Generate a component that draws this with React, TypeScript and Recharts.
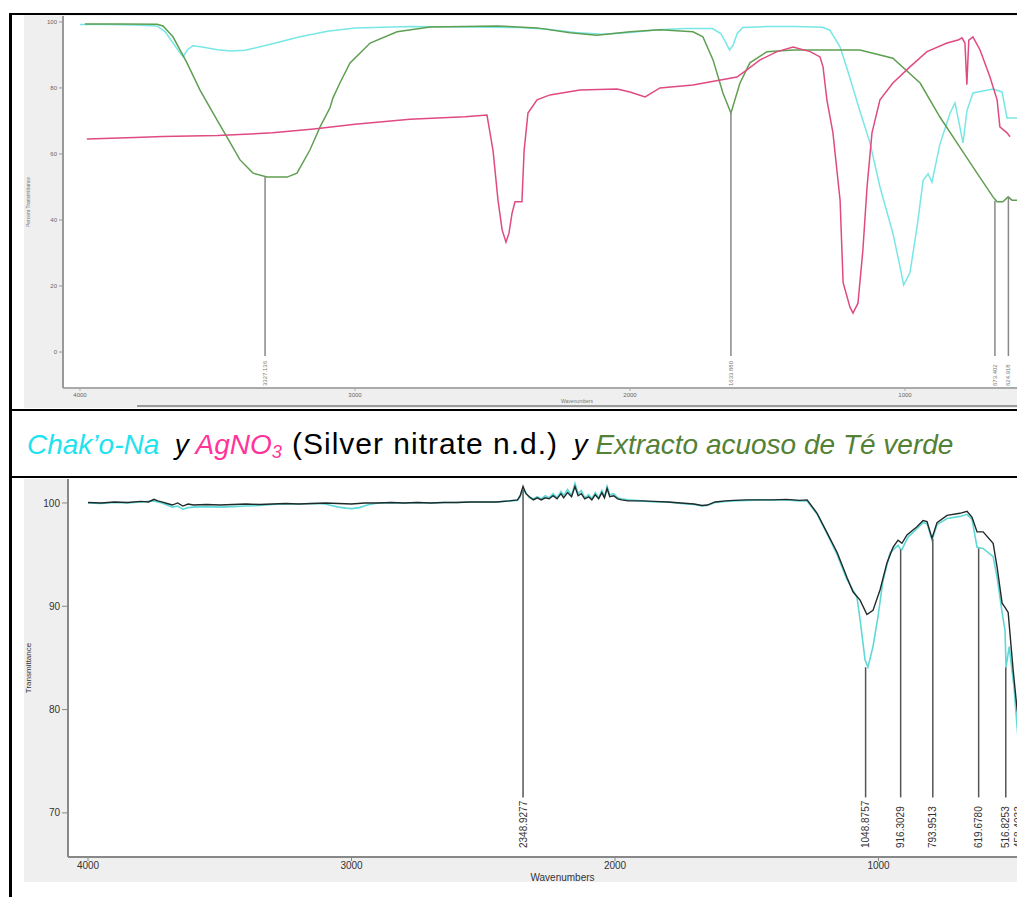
import React from 'react';
import { ComposedChart, Line, Scatter, XAxis, YAxis, CartesianGrid, ReferenceLine, Label } from 'recharts';

// ---- top panel: Chak'o-Na, AgNO3, green tea extract (wavenumber, %T) ----
const chakoTop: [number, number][] = [
  [4000, 99.2], [3900, 99.2], [3800, 99.1], [3720, 98.8], [3690, 97], [3665, 94], [3640, 91], [3625, 89.5],
  [3610, 91.5], [3590, 92.8], [3560, 92.5], [3500, 91.6], [3450, 91.2], [3400, 91.4], [3300, 93.4], [3200, 95.5],
  [3100, 97.2], [3000, 98.2], [2800, 98.6], [2600, 98.5], [2400, 98.3], [2300, 97.8], [2200, 96.8], [2100, 96.3],
  [2000, 96.8], [1900, 97.6], [1800, 98], [1700, 98], [1670, 96.5], [1650, 93.5], [1638, 91.5], [1625, 93],
  [1610, 96.5], [1590, 98.3], [1500, 98.6], [1400, 98.6], [1300, 98.4], [1273, 97.5], [1236, 92.4], [1211, 86],
  [1164, 73], [1127, 63.3], [1091, 50], [1044, 36], [1018, 25.8], [1005, 20.3], [982, 24], [956, 38], [934, 52],
  [916, 54], [902, 51.5], [873, 63], [836, 72.4], [818, 75.5], [800, 68], [789, 63.3], [775, 73], [753, 78.5],
  [680, 79.7], [647, 78.8], [629, 70.9], [593, 70.9], [480, 70.8],
];
const agno3Top: [number, number][] = [
  [3975, 64.5], [3800, 65], [3700, 65.3], [3500, 65.6], [3300, 66.4], [3150, 67.6], [3000, 69], [2800, 70.5],
  [2600, 71.3], [2520, 71.8], [2498, 61], [2480, 46], [2465, 37], [2451, 33.3], [2440, 36], [2429, 42],
  [2418, 45.5], [2393, 45.5], [2385, 61], [2371, 72.4], [2338, 76.4], [2291, 77.9], [2182, 79.4], [2047, 79.7],
  [2000, 78.8], [1945, 77.3], [1891, 80], [1771, 80.9], [1611, 83.3], [1575, 85.5], [1527, 88.5], [1465, 91],
  [1407, 92.4], [1345, 91], [1309, 89.4], [1298, 86.4], [1284, 76.4], [1262, 66.4], [1236, 46], [1225, 21],
  [1200, 13.6], [1189, 11.8], [1171, 14.8], [1153, 31], [1138, 50], [1120, 66.4], [1091, 76.4], [1044, 81.5],
  [982, 86.4], [920, 91], [847, 93.6], [807, 94.5], [793, 95.2], [782, 93.6], [775, 81], [768, 94.5],
  [753, 95.5], [727, 91.5], [691, 83.3], [665, 76.4], [655, 68.2], [629, 66.4], [618, 65.2],
];
const teTop: [number, number][] = [
  [3982, 99.4], [3850, 99.4], [3720, 99.3], [3698, 98.8], [3662, 95.5], [3611, 87.6], [3564, 79.4], [3516, 72.4],
  [3465, 65], [3418, 58.2], [3371, 54.2], [3320, 53], [3247, 53], [3211, 54.2], [3164, 61.2], [3127, 68.2],
  [3091, 74], [3080, 77], [3055, 81.5], [3018, 87.6], [2945, 93.6], [2847, 97], [2727, 98.5], [2484, 98.8],
  [2338, 98.2], [2218, 96.7], [2120, 96], [2000, 97], [1891, 97.6], [1771, 97], [1735, 95.5], [1698, 88.5],
  [1662, 78.5], [1633, 72.4], [1600, 81.5], [1564, 87.6], [1502, 91], [1407, 91.5], [1164, 91.5], [1044, 89],
  [945, 81.5], [873, 71.2], [800, 62], [738, 54.2], [680, 47], [665, 45.5], [644, 45.5], [625, 47], [611, 46],
  [593, 46], [480, 46],
];
const topPeaks: [number, number, string][] = [
  [3327, 53, '3327.136'], [1633, 72.4, '1633.880'], [673, 45.8, '673.402'], [624, 47, '624.918'],
];

// ---- bottom panel ----
const darkBottom: [number, number][] = [
  [4000, 100.05], [3950, 100.0], [3900, 100.1], [3850, 100.05], [3800, 100.15], [3770, 100.1], [3750, 100.35],
  [3735, 100.2], [3720, 100.1], [3700, 99.95], [3680, 99.8], [3660, 100.0], [3640, 99.7], [3620, 99.9],
  [3600, 99.8], [3550, 99.85], [3500, 99.8], [3450, 99.85], [3400, 99.9], [3350, 99.85], [3300, 99.9],
  [3250, 99.95], [3200, 99.9], [3150, 99.95], [3100, 100.0], [3050, 99.95], [3000, 99.9], [2950, 100.0],
  [2900, 100.0], [2850, 100.05], [2800, 100.0], [2750, 100.05], [2700, 100.0], [2650, 100.05], [2600, 100.05],
  [2550, 100.1], [2500, 100.1], [2450, 100.1], [2400, 100.2], [2370, 100.3], [2360, 100.7], [2349, 101.6],
  [2338, 100.9], [2325, 100.6], [2310, 100.3], [2295, 100.5], [2280, 100.3], [2265, 100.5], [2250, 100.4],
  [2235, 100.7], [2220, 100.4], [2205, 100.9], [2195, 100.5], [2180, 101.0], [2165, 100.6], [2152, 101.6],
  [2140, 100.7], [2128, 100.9], [2115, 100.4], [2100, 100.6], [2088, 100.3], [2075, 100.8], [2062, 100.4],
  [2050, 101.0], [2040, 100.5], [2030, 101.4], [2020, 100.6], [2005, 100.7], [1990, 100.4], [1975, 100.3],
  [1950, 100.2], [1900, 100.2], [1850, 100.15], [1800, 100.1], [1750, 100.0], [1700, 99.9], [1670, 99.75],
  [1650, 99.8], [1620, 100.1], [1580, 100.2], [1550, 100.25], [1500, 100.3], [1450, 100.3], [1400, 100.3],
  [1350, 100.35], [1300, 100.25], [1271, 100.3], [1233, 99.0], [1195, 97.1], [1157, 95.2], [1120, 92.8],
  [1097, 91.4], [1070, 90.6], [1044, 89.2], [1021, 89.6], [994, 91.6], [968, 94.2], [945, 95.7], [926, 96.4],
  [911, 96.1], [892, 96.9], [854, 97.7], [831, 98.3], [816, 98.2], [797, 96.6], [778, 98.1], [740, 98.8],
  [691, 99.0], [664, 99.2], [645, 98.6], [626, 97.2], [603, 97.2], [565, 96.1], [550, 93.8], [531, 90.3],
  [520, 89.9], [508, 89.4], [489, 83.8], [474, 80], [440, 75], [400, 71],
];
const cyanBottom: [number, number][] = [
  [4000, 100.0], [3950, 99.95], [3900, 100.05], [3850, 100.0], [3800, 100.1], [3750, 100.2], [3720, 100.0],
  [3700, 99.8], [3680, 99.6], [3660, 99.7], [3640, 99.4], [3620, 99.55], [3600, 99.6], [3550, 99.65],
  [3500, 99.6], [3450, 99.65], [3400, 99.7], [3350, 99.75], [3300, 99.85], [3250, 99.9], [3200, 99.9],
  [3150, 99.95], [3100, 99.9], [3050, 99.6], [3020, 99.5], [3000, 99.45], [2970, 99.55], [2940, 99.8],
  [2900, 100.0], [2850, 100.0], [2800, 100.0], [2750, 100.05], [2700, 100.0], [2650, 100.05], [2600, 100.05],
  [2550, 100.1], [2500, 100.1], [2450, 100.1], [2400, 100.2], [2370, 100.25], [2360, 100.6], [2349, 101.3],
  [2338, 101.0], [2325, 100.5], [2310, 100.4], [2295, 100.6], [2280, 100.4], [2265, 100.7], [2250, 100.5],
  [2235, 100.9], [2220, 100.5], [2205, 101.1], [2195, 100.7], [2180, 101.3], [2165, 100.7], [2152, 101.9],
  [2140, 100.9], [2128, 101.2], [2115, 100.5], [2100, 100.8], [2088, 100.4], [2075, 101.0], [2062, 100.5],
  [2050, 101.2], [2040, 100.6], [2030, 101.6], [2020, 100.8], [2005, 100.9], [1990, 100.5], [1975, 100.4],
  [1950, 100.3], [1900, 100.2], [1850, 100.1], [1800, 100.1], [1750, 99.95], [1700, 99.85], [1670, 99.7],
  [1650, 99.75], [1620, 100.05], [1580, 100.15], [1550, 100.2], [1500, 100.25], [1450, 100.3], [1400, 100.3],
  [1350, 100.3], [1300, 100.2], [1271, 100.2], [1233, 98.9], [1195, 97], [1157, 95], [1120, 92.6],
  [1082, 90.9], [1070, 88.7], [1051, 84.8], [1040, 84.1], [1021, 86.1], [1002, 89], [983, 92.5], [956, 95.2],
  [926, 95.9], [916, 95.5], [911, 95.5], [888, 96.7], [854, 97.5], [831, 98.1], [816, 98], [797, 96.4],
  [778, 97.9], [740, 98.5], [691, 98.7], [664, 98.9], [645, 98.4], [626, 95.7], [603, 95.6], [565, 94.8],
  [550, 92.8], [531, 89.4], [520, 87.7], [516, 84.1], [504, 86.1], [486, 82.2], [472, 77.7], [440, 72], [400, 68],
];
const bottomPeaks: [number, number, string][] = [
  [2349, 101.3, '2348.9277'], [1049, 84.1, '1048.8757'], [916, 95.5, '916.3029'], [794, 96.5, '793.9513'],
  [620, 95.6, '619.6780'], [517, 84.1, '516.8253'], [467, 76, '458.4033'],
];

const toPts = (arr: [number, number][]) => arr.map(([x, y]) => ({ x, y }));

const PeakText = (size: number, color: string) => (p: any) => (
  <text
    x={p.cx}
    y={p.cy}
    transform={`rotate(-90 ${p.cx} ${p.cy})`}
    fontSize={size}
    fill={color}
    dominantBaseline="central"
    textAnchor="start"
  >
    {p.payload.label}
  </text>
);

const TopPanel = () => (
  <ComposedChart width={1023} height={393} margin={{ top: 1, right: 0, left: 0, bottom: 0 }}>
    <CartesianGrid fill="#ffffff" horizontal={false} vertical={false} />
    <XAxis
      dataKey="x"
      type="number"
      domain={[483.6, 4061.8]}
      reversed
      allowDataOverflow
      ticks={[4000, 3000, 2000, 1000]}
      height={20}
      tick={{ fontSize: 6, fill: '#666' }}
      tickSize={3}
      tickMargin={2}
      stroke="#aaa"
      axisLine={{ stroke: '#aaa', strokeWidth: 2 }}
    >
      <Label value="Wavenumbers" position="insideBottom" offset={5} dx={22} style={{ fontSize: 5, fill: '#777' }} />
    </XAxis>
    <YAxis
      type="number"
      domain={[-10.9, 101.8]}
      allowDataOverflow
      ticks={[0, 20, 40, 60, 80, 100]}
      width={39}
      tick={{ fontSize: 6, fill: '#666' }}
      tickSize={4}
      tickMargin={2}
      stroke="#999"
      axisLine={{ stroke: '#999', strokeWidth: 2 }}
    >
      <Label value="Percent Transmittance" angle={-90} position="insideLeft" offset={4} style={{ fontSize: 5, fill: '#777', textAnchor: 'middle' }} />
    </YAxis>
    <Line data={toPts(chakoTop)} dataKey="y" stroke="#79e6e6" strokeWidth={1.5} dot={false} isAnimationActive={false} />
    <Line data={toPts(teTop)} dataKey="y" stroke="#5f9f52" strokeWidth={1.5} dot={false} isAnimationActive={false} />
    <Line data={toPts(agno3Top)} dataKey="y" stroke="#e04a82" strokeWidth={1.5} dot={false} isAnimationActive={false} />
    {topPeaks.map(([x, y]) => (
      <ReferenceLine key={x} segment={[{ x, y }, { x, y: -1.2 }]} stroke="#888" strokeWidth={1.5} ifOverflow="visible" />
    ))}
    <Scatter
      data={topPeaks.map(([x, , label]) => ({ x, y: -10.3, label }))}
      dataKey="y"
      shape={PeakText(6, '#777')}
      isAnimationActive={false}
    />
  </ComposedChart>
);

const BottomPanel = () => (
  <ComposedChart width={1023} height={403} margin={{ top: 0, right: 0, left: 0, bottom: 0 }}>
    <CartesianGrid fill="#ffffff" horizontal={false} vertical={false} />
    <XAxis
      dataKey="x"
      type="number"
      domain={[360.6, 4075.9]}
      reversed
      allowDataOverflow
      ticks={[4000, 3000, 2000, 1000]}
      height={25}
      tick={{ fontSize: 10, fill: '#333' }}
      tickSize={4}
      tickMargin={1}
      stroke="#888"
      axisLine={{ stroke: '#888', strokeWidth: 2 }}
    >
      <Label value="Wavenumbers" position="insideBottom" offset={1} dx={5} style={{ fontSize: 10, fill: '#333' }} />
    </XAxis>
    <YAxis
      type="number"
      domain={[65.73, 102.32]}
      allowDataOverflow
      ticks={[70, 80, 90, 100]}
      width={44}
      tick={{ fontSize: 10, fill: '#333' }}
      tickSize={6}
      tickMargin={2}
      stroke="#888"
      axisLine={{ stroke: '#888', strokeWidth: 2 }}
    >
      <Label value="Transmittance" angle={-90} position="insideLeft" offset={4} style={{ fontSize: 8, fill: '#333', textAnchor: 'middle' }} />
    </YAxis>
    <Line data={toPts(cyanBottom)} dataKey="y" stroke="#5fd8d8" strokeWidth={1.6} dot={false} isAnimationActive={false} />
    <Line data={toPts(darkBottom)} dataKey="y" stroke="#1f2a2a" strokeWidth={1.4} dot={false} isAnimationActive={false} />
    {bottomPeaks.map(([x, y]) => (
      <ReferenceLine key={x} segment={[{ x, y }, { x, y: 71.5 }]} stroke="#555" strokeWidth={1.5} ifOverflow="visible" />
    ))}
    <Scatter
      data={bottomPeaks.map(([x, , label]) => ({ x, y: 66.6, label }))}
      dataKey="y"
      shape={PeakText(10, '#333')}
      isAnimationActive={false}
    />
  </ComposedChart>
);

const hLine = (top: number, h: number) => (
  <div style={{ position: 'absolute', left: 9, top, width: 1010, height: h, background: '#000' }} />
);

export default function App() {
  return (
    <div
      style={{
        position: 'absolute', left: 0, top: 0, width: 1017, height: 897, overflow: 'hidden',
        background: '#fff', fontFamily: '"Liberation Sans", Arial, sans-serif',
      }}
    >
      <div style={{ position: 'absolute', left: 24, top: 15, width: 1023, height: 393, background: '#efefef' }}>
        <TopPanel />
      </div>
      <div style={{ position: 'absolute', left: 137, top: 405, width: 900, height: 2, background: '#9a9a9a' }} />
      <div style={{ position: 'absolute', left: 24, top: 479, width: 1023, height: 403, background: '#efefef' }}>
        <BottomPanel />
      </div>

      {hLine(13, 2)}
      {hLine(409, 2)}
      {hLine(476, 2)}
      <div style={{ position: 'absolute', left: 9, top: 13, width: 3, height: 884, background: '#000' }} />

      <div
        style={{
          position: 'absolute', left: 27, top: 430, fontSize: 28, lineHeight: '28px', whiteSpace: 'pre', color: '#000',
        }}
      >
        <i style={{ color: '#1ee3ee' }}>Chak’o-Na</i>
        <i>{'  y '}</i>
        <i style={{ color: '#ff3399' }}>AgNO<sub style={{ fontSize: '0.65em', verticalAlign: '-0.2em' }}>3</sub></i>
        <span style={{ fontSize: 30, letterSpacing: 1, marginLeft: 10 }}>(Silver nitrate n.d.)</span>
        <i>{'  y '}</i>
        <i style={{ color: '#538135' }}>Extracto acuoso de Té verde</i>
      </div>
    </div>
  );
}
